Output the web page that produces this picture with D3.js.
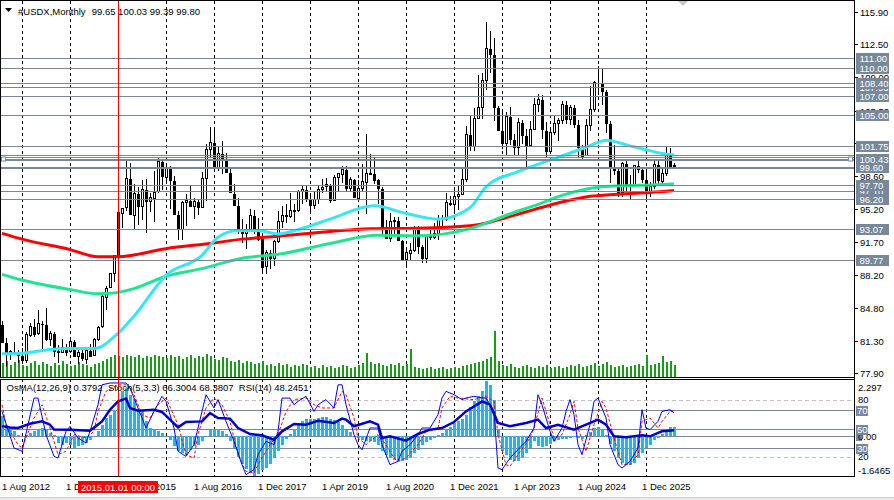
<!DOCTYPE html>
<html>
<head>
<meta charset="utf-8">
<script src="https://cdn.jsdelivr.net/npm/d3@7"></script>
<style>
  html, body { margin: 0; padding: 0; background: #fff; }
  svg { display: block; font-family: "Liberation Sans", Arial, sans-serif; }
  .pre { white-space: pre; }
</style>
</head>
<body>
<div id="chart"></div>
<script>
// Monthly bars, index 0 = Aug 2012
var openP = [83.1,81.2,79.9,80.2,80.1,79.8,79.3,82.0,82.9,82.1,
  83.2,83.1,81.5,82.1,80.2,80.2,80.7,80.2,81.3,79.7,
  80.1,79.5,80.4,79.8,81.5,82.8,86.0,86.9,88.4,90.3,
  94.8,95.3,98.4,94.6,96.9,95.5,97.3,96.0,96.4,97.0,
  100.2,98.6,99.6,98.2,94.6,93.1,95.9,96.1,95.5,96.0,
  95.4,98.4,101.5,102.2,99.5,101.1,100.35,99.05,96.9,95.6,
  92.9,92.7,93.1,94.55,93.0,92.1,89.1,90.6,90.0,91.8,
  93.9,94.5,94.5,95.1,95.1,97.1,97.3,96.2,95.6,96.2,
  97.3,97.5,97.75,96.1,98.5,98.9,99.4,97.4,98.3,96.4,
  97.4,98.1,99.0,99.0,98.3,97.4,93.35,92.1,93.9,94.0,
  91.9,89.9,90.6,90.9,93.2,91.3,90.0,92.4,92.2,92.6,
  94.2,94.1,95.9,95.7,96.5,96.7,98.3,103.0,101.8,104.7,
  105.9,108.7,112.1,111.5,105.9,103.5,102.1,104.9,102.5,101.7,
  104.3,102.9,101.9,103.6,106.2,106.7,103.5,101.3,103.3,104.2,
  104.5,106.2,104.6,105.9,104.1,101.7,100.8,104.0,105.7,108.5,
  108.4,107.6,104.2,99.5,99.3,96.9,100.0,97.8,97.8,99.8,
  99.4,98.3,97.0,97.6,99.9,98.2,99.0,101.1,99.65];
var highP = [83.4,81.6,80.4,81.2,80.3,80.6,82.2,83.2,83.6,84.5,
  83.4,84.8,82.3,82.2,80.9,81.5,81.0,81.5,81.4,80.5,
  80.4,80.5,81.0,81.6,82.9,86.1,87.1,88.4,90.3,95.5,
  95.3,100.4,100.0,97.8,97.5,98.2,98.3,96.8,99.2,100.5,
  100.2,100.0,99.7,98.6,95.0,96.0,96.7,97.6,96.3,96.2,
  99.1,102.0,103.8,103.8,101.8,102.3,101.0,99.4,97.8,96.3,
  94.1,93.6,95.2,95.1,94.2,92.6,90.9,90.9,91.9,95.0,
  95.5,95.7,96.9,95.7,97.2,97.7,97.7,96.9,97.0,97.7,
  98.3,98.4,97.8,98.7,99.0,99.7,99.7,98.5,98.3,98.2,
  99.9,103.0,100.9,100.5,98.3,97.5,94.0,94.7,94.3,94.3,
  91.9,91.0,91.6,93.4,93.4,91.4,92.4,93.2,93.7,94.5,
  94.5,96.9,96.5,97.4,97.7,99.4,103.9,105.0,105.8,109.3,
  109.5,114.8,113.9,113.1,106.0,105.6,105.4,105.9,103.1,104.7,
  104.5,103.6,104.4,106.8,107.3,107.1,104.3,103.8,104.9,104.7,
  106.5,106.5,106.1,106.1,104.5,101.9,104.6,108.1,108.6,110.2,
  109.9,107.7,104.4,101.9,99.5,100.1,100.3,98.7,99.8,100.4,
  99.6,99.5,98.0,100.3,100.2,99.5,101.7,101.6,100.03];
var lowP = [81.1,78.6,79.3,79.9,79.0,79.1,79.0,81.7,81.7,81.9,
  80.5,81.3,80.8,79.6,79.0,80.1,79.7,80.0,79.7,78.9,
  79.2,78.9,79.8,79.8,81.3,82.7,84.5,86.9,87.5,90.3,
  93.2,95.0,94.5,93.1,93.5,94.0,92.6,94.8,93.8,96.9,
  97.2,97.8,95.2,94.6,91.9,91.9,93.4,95.5,94.1,94.5,
  95.4,96.0,100.6,99.2,99.2,98.8,98.9,96.8,95.5,92.5,
  91.6,91.0,92.8,92.5,91.8,88.4,88.3,88.9,89.2,91.6,
  93.2,93.7,94.2,93.8,94.8,95.7,95.9,95.0,95.2,95.7,
  96.8,97.0,95.8,96.0,97.0,97.9,97.1,97.1,96.4,96.2,
  97.0,94.6,98.8,97.8,95.7,92.5,92.1,91.7,92.5,91.9,
  89.7,89.2,89.7,90.6,90.4,89.5,89.5,91.9,92.0,91.9,
  93.3,93.9,95.5,94.6,95.1,96.6,98.0,101.3,101.3,104.6,
  104.6,107.7,109.5,104.4,103.4,101.5,100.8,101.9,100.8,100.8,
  102.0,99.6,101.7,103.6,105.4,102.5,100.6,101.3,102.9,102.3,
  104.1,104.1,104.0,103.7,100.5,100.2,100.8,103.4,105.4,107.1,
  106.1,103.2,97.9,98.7,96.4,96.4,97.1,96.2,97.5,98.9,
  97.9,96.2,96.4,97.3,97.6,97.9,98.6,99.5,99.39];
var closeP = [81.2,79.9,80.2,80.1,79.8,79.3,82.0,82.9,82.1,83.2,
  83.1,81.5,82.1,80.2,80.2,80.7,80.2,81.3,79.7,80.1,
  79.5,80.4,79.8,81.5,82.8,86.0,86.9,88.4,90.3,94.8,
  95.3,98.4,94.6,96.9,95.5,97.3,96.0,96.4,97.0,100.2,
  98.6,99.6,98.2,94.6,93.1,95.9,96.1,95.5,96.0,95.4,
  98.4,101.5,102.2,99.5,101.1,100.35,99.05,96.9,95.6,92.9,
  92.7,93.1,94.55,93.0,92.1,89.1,90.6,90.0,91.8,93.9,
  94.5,94.5,95.1,95.1,97.1,97.3,96.2,95.6,96.2,97.3,
  97.5,97.75,96.1,98.5,98.9,99.4,97.4,98.3,96.4,97.4,
  98.1,99.0,99.0,98.3,97.4,93.35,92.1,93.9,94.0,91.9,
  89.9,90.6,90.9,93.2,91.3,90.0,92.4,92.2,92.6,94.2,
  94.1,95.9,95.7,96.5,96.7,98.3,103.0,101.8,104.7,105.9,
  108.7,112.1,111.5,105.9,103.5,102.1,104.9,102.5,101.7,104.3,
  102.9,101.9,103.6,106.2,106.7,103.5,101.3,103.3,104.2,104.5,
  106.2,104.6,105.9,104.1,101.7,100.8,104.0,105.7,108.5,108.4,
  107.6,104.2,99.5,99.3,96.9,100.0,97.8,97.8,99.8,99.4,
  98.3,97.0,97.6,99.9,98.2,99.0,101.1,99.65,99.80];

// tick volume (thousands)
var volume = [14,16,12,15,17,12,11,14,16,12,15,13,11,14,12,16,13,11,12,15,13,12,10,13,14,16,18,20,22,
  21,20,22,21,20,22,19,21,20,22,21,20,19,22,20,21,18,20,22,19,21,20,23,21,18,17,20,19,
  16,15,17,14,16,15,13,14,16,12,13,11,14,12,13,10,12,11,13,12,10,11,9,12,10,11,9,10,12,11,9,10,12,14,
  24,
  15,13,14,12,11,13,12,14,11,13,
  28,
  10,9,8,9,10,8,9,10,8,9,10,9,11,12,13,
  14,15,16,18,20,46,16,
  12,11,13,10,9,11,12,10,9,11,10,12,9,10,11,9,10,12,11,13,10,11,12,14,11,13,15,12,10,11,12,10,11,12,13,11,22,12,13,14,21,15,16,12];

// moving averages: [bar index, value]
var maRed = [[0,92.6],[5,92.0],[17,90.9],[24,90.15],[29,90.15],[41,91.0],[53,91.6],[60,92.0],[69,92.3],[82,92.8],
  [92,93.1],[104,93.15],[117,93.4],[123,93.9],[128,94.5],[133,95.1],[140,95.9],[147,96.5],[155,96.75],[162,96.9],[168,97.1]];
var maGreen = [[0,88.3],[5,87.7],[17,86.7],[24,86.25],[27,86.3],[33,86.8],[41,88.1],[50,88.9],[60,90.0],[69,90.4],
  [82,91.55],[94,92.4],[104,92.35],[117,93.1],[123,94.0],[128,94.8],[133,95.5],[140,96.6],[149,97.45],[155,97.6],[162,97.7],[168,97.8]];
var maCyan = [[0,79.95],[5,80.0],[12,80.4],[17,80.5],[23,80.5],[29,82.1],[33,83.9],[41,88.2],[50,90.3],[54,92.2],
  [59,92.9],[64,92.9],[69,92.55],[74,93.0],[82,94.1],[93,95.5],[101,94.7],[109,94.1],[117,95.3],[121,97.5],
  [129,99.1],[137,100.3],[145,101.5],[148,102.0],[151,102.4],[157,101.8],[160,101.5],[165,101.0],[168,100.85]];

// horizontal levels (labelled, partly covered, unlabelled)
var levels = [111.00, 110.00, 108.40, 107.00, 105.00, 101.75, 100.43, 97.70, 96.20, 93.07, 89.77];
var coveredLevels = [107.95, 97.10, 99.60];
var bandLevels = [100.80, 100.60, 100.28];
var priceTicks = [115.90, 112.50, 109.00, 105.50, 102.10, 98.60, 95.20, 91.70, 88.20, 84.80, 81.30, 77.90];

// OsMA(12,26,9) per bar
var osma = [0.83,0.48,0.35,0.21,0.07,0.02,0.07,0.14,0.21,0.28,0.35,0.28,0.14,0.04,
  -0.28,-0.35,-0.28,-0.35,-0.48,-0.41,-0.35,-0.28,-0.14,
  0.03,0.21,0.48,0.76,0.9,1.1,1.45,1.87,2.0,1.73,1.56,1.1,1.04,0.62,0.35,0.28,0.21,0.14,0.02,
  -0.14,-0.41,-0.62,-0.69,-0.76,-0.55,-0.41,-0.35,-0.2,
  0.02,0.25,0.3,0.3,0.22,0.08,
  -0.2,-0.5,-0.85,-1.15,-1.35,-1.5,-1.6465,-1.55,-1.4,-1.3,-1.15,-0.9,-0.6,-0.35,-0.1,
  0.1,0.3,0.5,0.65,0.7,0.72,0.7,0.75,0.8,0.8,0.72,0.68,0.6,0.45,0.25,0.2,
  0.0,-0.07,-0.15,-0.2,-0.2,-0.22,
  -0.35,-0.62,-0.76,-0.9,-0.97,-1.04,-1.04,-0.97,-0.9,-0.69,-0.55,
  -0.35,-0.25,-0.15,-0.05,0.05,
  0.15,0.3,0.4,0.55,0.65,0.7,0.9,1.2,1.45,1.66,1.87,2.297,2.15,1.52,0.3,
  -0.62,-0.76,-0.97,-1.04,-1.01,-0.9,-0.69,-0.48,-0.21,
  -0.4,-0.45,-0.4,-0.3,-0.2,-0.15,-0.12,-0.1,-0.06,-0.02,
  -0.05,-0.1,0.05,0.2,0.35,0.38,0.3,0.05,
  -0.3,-0.6,-0.9,-1.1,-1.2,-1.2,-1.1,-0.9,-0.7,-0.5,-0.35,-0.15,-0.05,
  0.1,0.3,0.38,0.3792];

// Stochastic(5,3,3) main / signal and RSI(14): [bar index, value]
var stochMain = [[0,68],[3,29.5],[5,26],[8,82],[9,82],[11,43.5],[13,20.7],[14,18.9],[16,47],[17,52.3],[19,40],[21,34.7],[22,47],
  [24,75],[25,96],[27,97.9],[31,97.9],[32,92.6],[34,71.6],[36,50.5],[38,68],[40,83.9],[41,78.6],[43,50.5],[44,26],[46,20.7],
  [48,33],[50,68],[51,85.6],[53,71.6],[54,80.4],[56,57.5],[58,36.5],[60,11.9],[61,1.4],[63,6.7],[64,22.5],[66,36.5],[68,33],
  [69,47],[70,82],[72,82],[73,75],[74,78.6],[76,83.9],[78,68],[79,75],[81,80.4],[83,71.6],[84,96],[85,96],[86,75],[88,43.5],
  [89,33],[90,27.7],[92,50.5],[94,50.5],[95,33],[97,11.9],[99,15.4],[100,26],[102,33],[104,43.5],[105,50.5],[107,50.5],
  [109,64.6],[110,82.1],[111,89.1],[113,85.6],[115,80.4],[116,82.1],[118,83.9],[120,82.1],[121,82.1],[123,68],[124,8.4],
  [125,6.7],[127,18.9],[129,27.7],[131,36.5],[133,50.5],[134,85.6],[135,75],[137,47],[138,36.5],[140,50.5],[141,68],[142,80.4],
  [143,64.6],[144,33],[145,22.5],[147,54],[148,78.6],[149,82.1],[151,61.1],[152,33],[154,11.9],[155,8.4],[157,15.4],[159,29.5],
  [160,69.8],[161,50.5],[162,48.8],[164,57.5],[165,68],[167,69.8],[168,66.3004]];
var stochSignal = [[0,75],[1,54],[4,33],[5,29.5],[8,61],[10,75],[12,50.5],[14,22.5],[16,26],[18,43.5],[21,40],[23,47],[24,68],
  [26,89.1],[29,96],[31,96],[33,85.6],[35,64.6],[37,61],[39,75],[41,82.1],[44,54],[46,22.5],[48,18.9],[49,43.5],[51,71.6],
  [53,82.1],[55,75],[57,57.5],[59,22.5],[61,4.9],[63,3.2],[64,11.9],[67,33],[69,43.5],[71,68],[73,80.4],[76,82.1],[78,75],
  [80,71.6],[83,71.6],[85,89.1],[86,85.6],[88,61],[89,40],[91,33],[94,43.5],[96,33],[98,18.9],[99,15.4],[101,18.9],[104,33],
  [106,47],[109,50.5],[110,71.6],[112,83.9],[114,82.1],[118,80.4],[121,83.9],[123,78.6],[124,43.5],[126,11.9],[127,10.2],
  [129,22.5],[132,40],[133,50.5],[135,82.1],[136,68],[138,40],[140,43.5],[142,64.6],[143,78.6],[144,50.5],[146,26],[148,54],
  [150,78.6],[151,71.6],[153,40],[155,11.9],[157,11.9],[159,22.5],[160,57.5],[162,61.1],[164,50.5],[165,57.5],[167,68],[168,68.3807]];
var rsi = [[0,52.5],[2,51],[4,50.5],[7,55],[10,57.5],[12,54],[13,49],[17,48.8],[22,47.7],[25,57.5],[27,69.8],[29,78.6],[31,81.4],
  [32,71.6],[34,68.8],[38,69.8],[40,67.4],[44,51.2],[46,56.8],[50,57.5],[52,66.3],[54,61.1],[57,60.4],[59,50.5],[62,44.2],
  [65,42.8],[68,38.2],[70,47],[73,54.7],[76,54],[79,58.2],[83,55.8],[85,60.4],[86,59.3],[88,52.3],[92,57.5],[94,54],[95,40],
  [97,41.8],[101,37.2],[104,44.2],[107,48.8],[110,50.5],[113,56.8],[116,68],[120,78.6],[122,75.1],[124,55.8],[127,52.3],
  [131,55.8],[134,59.3],[136,50.5],[139,54],[143,48.8],[146,54],[149,59.3],[151,54],[153,41.8],[156,40.7],[160,42.8],
  [162,41.8],[165,47],[168,48.2451]];

// time axis
var dateLabels = ["1 Aug 2012","1 Dec 2013","1 Apr 2015","1 Aug 2016","1 Dec 2017","1 Apr 2019",
  "1 Aug 2020","1 Dec 2021","1 Apr 2023","1 Aug 2024","1 Dec 2025"];
var dateLabelIdx = [0,16,32,48,64,80,96,112,128,144,160];
var yearStartIdx = [5,17,29,41,53,65,77,89,101,113,125,137,149,161];
var markerIdx = 29;
var markerText = "2015.01.01 00:00";

var svgWidth = 894, svgHeight = 500;
var plotRight = 854;
var mainTop = 1, mainBottom = 377, subTop = 379, subBottom = 477;

var svg = d3.select("#chart").append("svg")
  .attr("width", svgWidth)
  .attr("height", svgHeight);

svg.append("rect").attr("width", svgWidth).attr("height", svgHeight).attr("fill", "#fff");

var defs = svg.append("defs");
defs.append("clipPath").attr("id", "clipMain").append("rect")
  .attr("x", 0).attr("y", mainTop).attr("width", plotRight).attr("height", mainBottom - mainTop);
defs.append("clipPath").attr("id", "clipSub").append("rect")
  .attr("x", 0).attr("y", subTop).attr("width", plotRight).attr("height", subBottom - subTop);

// scales
var xScale = d3.scaleLinear().domain([0, 168]).range([2, 674]);
var yPrice = d3.scaleLinear().domain([77.9, 115.9]).range([373.3, 11.7]);
var yVol = d3.scaleLinear().domain([0, 47]).range([mainBottom, mainBottom - 47]);
var yOsma = d3.scaleLinear().domain([-1.6465, 2.297]).range([476, 381]);
var yPct = d3.scaleLinear().domain([0, 100]).range([476, 381]);

var bars = d3.range(openP.length);
var slate = "#778899";

var mainG = svg.append("g").attr("clip-path", "url(#clipMain)");
var subG = svg.append("g").attr("clip-path", "url(#clipSub)");

// vertical dashed grid, both windows
[[mainTop, mainBottom, mainG], [subTop, subBottom, subG]].forEach(function (p) {
  p[2].append("g")
    .selectAll("line")
    .data(yearStartIdx)
    .enter()
    .append("line")
    .attr("x1", d => Math.round(xScale(d)) + 0.5)
    .attr("x2", d => Math.round(xScale(d)) + 0.5)
    .attr("y1", p[0])
    .attr("y2", p[1])
    .attr("stroke", "#000")
    .attr("stroke-dasharray", "3,3");
});

// volumes
mainG.append("g")
  .attr("shape-rendering", "crispEdges")
  .selectAll("rect")
  .data(bars)
  .enter()
  .append("rect")
  .attr("x", d => Math.round(xScale(d)))
  .attr("y", d => yVol(volume[d]))
  .attr("width", 2)
  .attr("height", d => mainBottom - yVol(volume[d]))
  .attr("fill", "#12a012");

// candles
var candleG = mainG.append("g").attr("shape-rendering", "crispEdges");
candleG.selectAll("line")
  .data(bars)
  .enter()
  .append("line")
  .attr("x1", d => Math.round(xScale(d)) + 0.5)
  .attr("x2", d => Math.round(xScale(d)) + 0.5)
  .attr("y1", d => yPrice(highP[d]))
  .attr("y2", d => yPrice(lowP[d]))
  .attr("stroke", "#000");

candleG.selectAll("rect")
  .data(bars)
  .enter()
  .append("rect")
  .attr("x", d => closeP[d] >= openP[d] ? Math.round(xScale(d)) - 0.5 : Math.round(xScale(d)) - 1)
  .attr("y", d => Math.round(yPrice(Math.max(openP[d], closeP[d]))) + 0.5)
  .attr("width", d => closeP[d] >= openP[d] ? 2 : 3)
  .attr("height", d => Math.max(1, Math.round(yPrice(Math.min(openP[d], closeP[d])) - yPrice(Math.max(openP[d], closeP[d])))))
  .attr("fill", d => closeP[d] >= openP[d] ? "#fff" : "#000")
  .attr("stroke", d => closeP[d] >= openP[d] ? "#000" : "none");

// moving averages
var maLine = d3.line()
  .x(d => xScale(d[0]))
  .y(d => yPrice(d[1]))
  .curve(d3.curveMonotoneX);

[[maRed, "#ff0000"], [maGreen, "#22e391"], [maCyan, "#36e6f2"]].forEach(function (m) {
  mainG.append("path")
    .datum(m[0])
    .attr("d", maLine)
    .attr("fill", "none")
    .attr("stroke", m[1])
    .attr("stroke-width", 3);
});

// horizontal levels
var levelG = mainG.append("g").attr("shape-rendering", "crispEdges");
levelG.selectAll("line")
  .data(bandLevels.concat(coveredLevels, levels))
  .enter()
  .append("line")
  .attr("x1", 0)
  .attr("x2", plotRight)
  .attr("y1", d => Math.round(yPrice(d)) + 0.5)
  .attr("y2", d => Math.round(yPrice(d)) + 0.5)
  .attr("stroke", slate)
  .attr("stroke-width", d => (d === 99.60 || d === 100.43) ? 2 : 1);

// handles of the selected line
[3, 850].forEach(function (hx) {
  mainG.append("rect")
    .attr("x", hx - 1.5)
    .attr("y", Math.round(yPrice(100.43)) - 2)
    .attr("width", 4)
    .attr("height", 4)
    .attr("fill", "#fff")
    .attr("stroke", slate);
});

// sub window levels
var subLv = subG.append("g").attr("shape-rendering", "crispEdges");
[80, 20].forEach(function (v) {
  subLv.append("line")
    .attr("x1", 0).attr("x2", plotRight)
    .attr("y1", Math.round(yPct(v)) + 0.5).attr("y2", Math.round(yPct(v)) + 0.5)
    .attr("stroke", "#c0c0c0").attr("stroke-dasharray", "4,3");
});
[70, 50, 30].forEach(function (v) {
  subLv.append("line")
    .attr("x1", 0).attr("x2", plotRight)
    .attr("y1", Math.round(yPct(v)) + 0.5).attr("y2", Math.round(yPct(v)) + 0.5)
    .attr("stroke", slate);
});
subLv.append("line")
  .attr("x1", 0).attr("x2", plotRight)
  .attr("y1", Math.round(yOsma(0)) + 0.5).attr("y2", Math.round(yOsma(0)) + 0.5)
  .attr("stroke", slate);

// OsMA histogram
subG.append("g")
  .attr("shape-rendering", "crispEdges")
  .selectAll("rect")
  .data(bars)
  .enter()
  .append("rect")
  .attr("x", d => Math.round(xScale(d)) - 1)
  .attr("y", d => Math.min(yOsma(osma[d]), yOsma(0)))
  .attr("width", 3)
  .attr("height", d => Math.abs(yOsma(osma[d]) - yOsma(0)))
  .attr("fill", "#1eb6ec");

var pctLine = d3.line()
  .x(d => xScale(d[0]))
  .y(d => yPct(d[1]));

subG.append("path").datum(stochSignal).attr("d", pctLine)
  .attr("fill", "none").attr("stroke", "#ff0000").attr("stroke-width", 1).attr("stroke-dasharray", "3,2");
subG.append("path").datum(stochMain).attr("d", pctLine)
  .attr("fill", "none").attr("stroke", "#0000ff").attr("stroke-width", 1);
subG.append("path").datum(rsi).attr("d", pctLine)
  .attr("fill", "none").attr("stroke", "#0000c8").attr("stroke-width", 2.5);

// time marker
svg.append("line")
  .attr("x1", Math.round(xScale(markerIdx)) + 0.5)
  .attr("x2", Math.round(xScale(markerIdx)) + 0.5)
  .attr("y1", 0).attr("y2", subBottom)
  .attr("stroke", "#ff0000")
  .attr("shape-rendering", "crispEdges");

// frames
var frame = svg.append("g").attr("fill", "none").attr("stroke", "#000").attr("shape-rendering", "crispEdges");
frame.append("rect").attr("x", 0.5).attr("y", 0.5).attr("width", plotRight).attr("height", mainBottom);
frame.append("rect").attr("x", 0.5).attr("y", subTop + 0.5).attr("width", plotRight).attr("height", subBottom - subTop - 1);

// price axis
var axisG = svg.append("g").attr("font-size", "9.5px");
priceTicks.forEach(function (v) {
  var ty = Math.round(yPrice(v)) + 0.5;
  axisG.append("line").attr("x1", plotRight).attr("x2", plotRight + 4)
    .attr("y1", ty).attr("y2", ty).attr("stroke", "#000").attr("shape-rendering", "crispEdges");
  axisG.append("text").attr("x", 860).attr("y", ty).attr("dy", "0.36em")
    .attr("fill", "#000").text(d3.format(".2f")(v));
});

// level labels (covered ones first so the others sit on top)
coveredLevels.concat(levels).forEach(function (v) {
  var ty = Math.round(yPrice(v));
  axisG.append("rect").attr("x", 856).attr("y", ty - 5).attr("width", 33).attr("height", 11)
    .attr("fill", slate).attr("shape-rendering", "crispEdges");
  axisG.append("text").attr("x", 859.5).attr("y", ty + 0.5).attr("dy", "0.36em")
    .attr("fill", "#fff").text(d3.format(".2f")(v));
});

// sub window axis
var subAxis = [["2.297", 388], ["80", yPct(80)], ["0.00", yOsma(0)], ["20", yPct(20)], ["-1.6465", 471]];
axisG.append("rect").attr("x", 856).attr("y", Math.round(yOsma(0)) - 4).attr("width", 6).attr("height", 9)
  .attr("fill", slate);
subAxis.forEach(function (s) {
  axisG.append("text").attr("x", 858).attr("y", s[1]).attr("dy", "0.36em").attr("fill", "#000").text(s[0]);
});
[70, 50, 30].forEach(function (v) {
  var ty = Math.round(yPct(v));
  axisG.append("rect").attr("x", 856).attr("y", ty - 4).attr("width", 12).attr("height", 10)
    .attr("fill", slate);
  axisG.append("text").attr("x", 857).attr("y", ty + 0.5).attr("dy", "0.36em").attr("fill", "#fff").text(v);
});

svg.append("line").attr("x1", plotRight + 0.5).attr("x2", plotRight + 0.5).attr("y1", 0).attr("y2", subBottom)
  .attr("stroke", "#000").attr("shape-rendering", "crispEdges");

// time axis
var timeG = svg.append("g").attr("font-size", "9.5px").attr("fill", "#000");
timeG.selectAll("text")
  .data(dateLabelIdx)
  .enter()
  .append("text")
  .attr("x", d => xScale(d))
  .attr("y", 490)
  .text((d, i) => dateLabels[i]);

timeG.append("rect")
  .attr("x", Math.round(xScale(markerIdx)) - 40)
  .attr("y", 481)
  .attr("width", 80)
  .attr("height", 12)
  .attr("fill", "#ff0000");
timeG.append("text")
  .attr("x", xScale(markerIdx))
  .attr("y", 490.5)
  .attr("text-anchor", "middle")
  .attr("fill", "#fff")
  .text(markerText);

svg.append("rect").attr("x", 0).attr("y", 497).attr("width", svgWidth).attr("height", 3).attr("fill", "#ececec");
svg.append("line").attr("x1", 0).attr("x2", svgWidth).attr("y1", 497.5).attr("y2", 497.5)
  .attr("stroke", "#cfcfcf").attr("shape-rendering", "crispEdges");

// headers
var last = openP.length - 1;
var f2 = d3.format(".2f"), f4 = d3.format(".4f");
var hdr = svg.append("g").attr("font-size", "9.5px").attr("fill", "#000");
hdr.append("polygon").attr("points", "5,8 12,8 8.5,12").attr("fill", "#000");
hdr.append("text").attr("x", 18).attr("y", 15).text("#USDX,Monthly");
hdr.append("text").attr("x", 91.7).attr("y", 15)
  .text([openP[last], highP[last], lowP[last], closeP[last]].map(f2).join(" "));
svg.append("polygon").attr("points", "678,1 688,1 683,6").attr("fill", "#c8c8c8");

hdr.append("text")
  .attr("class", "pre")
  .attr("x", 6.5)
  .attr("y", 391)
  .text("OsMA(12,26,9) " + f4(osma[last]) + "  Stoch(5,3,3) " + f4(stochMain[stochMain.length - 1][1]) + " " +
    f4(stochSignal[stochSignal.length - 1][1]) + "  RSI(14) " + f4(rsi[rsi.length - 1][1]));
</script>
</body>
</html>
